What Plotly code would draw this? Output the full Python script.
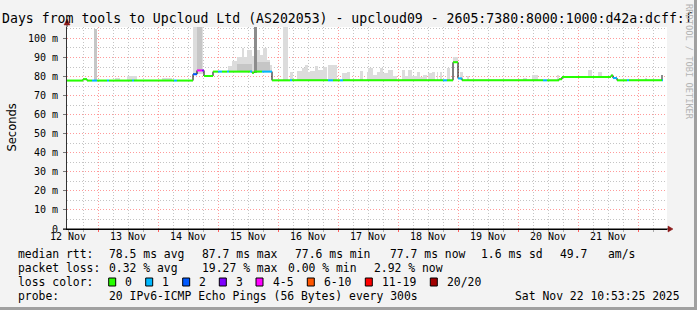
import bisect
from datetime import datetime, timedelta
import plotly.graph_objects as go

# ---------------- data ----------------
START = datetime(2025, 11, 12, 11, 36)
SPAN_HOURS = 240

# median rtt step series (hours since START, ms, loss class index)
median_h = [0, 6.4, 8.0, 10.0, 12.0, 16.0, 16.8, 26.0, 26.8, 42.8, 44.0, 50.4, 52.0, 54.0,
            54.8, 58.4, 60.4, 62.0, 64.0, 64.8, 73.2, 74.0, 74.8, 78.0, 82.0, 89.2, 90.0,
            104.4, 106.4, 109.2, 110.4, 150.4, 152.0, 154.4, 156.4, 158.0, 190.4, 192.0,
            196.8, 198.0, 217.6, 218.4, 220.0, 224.0, 224.8, 238.0]
median_ms = [77.9, 78.6, 77.9, 77.9, 77.9, 77.9, 77.9, 77.9, 77.9, 77.9, 77.9, 81.2, 83.2, 83.2,
             80.3, 82.6, 82.6, 82.6, 82.6, 82.6, 82.6, 82.0, 82.6, 82.6, 78.0, 78.0, 78.0,
             78.0, 78.0, 78.0, 78.0, 78.0, 78.0, 87.5, 79.0, 78.0, 78.0, 78.0,
             78.6, 79.8, 80.6, 79.2, 78.0, 78.0, 78.0, 78.0]
median_loss = [0, 0, 0, 1, 0, 1, 0, 1, 0, 1, 0, 2, 4, 3,
               0, 0, 1, 0, 1, 0, 1, 0, 0, 1, 0, 1, 0,
               1, 0, 1, 0, 1, 0, 0, 1, 0, 1, 0,
               0, 0, 0, 1, 0, 1, 0, 1]
median_end_h = 238.4

# smoke (outer, light)
smoke_start = [19.2, 24.0, 38.0, 50.4, 64.4, 66.0, 68.0, 70.0, 70.6, 72.0, 74.0, 75.8, 77.2, 78.4,
               80.0, 81.2, 86.4, 89.2, 92.0, 94.0, 95.2, 96.4, 97.2, 99.2, 100.4, 102.4, 104.4,
               110.0, 112.0, 117.2, 120.0, 120.4, 122.4, 124.0, 125.2, 126.4, 128.4, 130.4,
               134.0, 135.2, 136.4, 138.0, 140.0, 141.2, 142.4, 144.4, 146.0, 148.0, 149.2,
               152.0, 154.4, 157.2, 160.0, 182.4, 186.0, 196.0, 208.4, 212.4, 231.2]
smoke_end = [21.2, 28.0, 42.0, 54.4, 66.0, 68.0, 70.0, 70.6, 72.0, 74.0, 74.6, 77.2, 78.4, 80.0,
             81.2, 82.0, 88.4, 90.4, 94.0, 95.2, 96.4, 97.2, 99.2, 100.4, 102.4, 104.0, 108.0,
             112.0, 113.2, 118.4, 120.4, 122.4, 124.0, 125.2, 126.4, 128.4, 130.4, 132.0,
             135.2, 136.4, 138.0, 140.0, 141.2, 142.4, 144.0, 146.0, 147.2, 148.4, 150.0,
             153.2, 156.4, 158.4, 160.8, 184.0, 188.4, 196.8, 210.0, 214.0, 232.0]
smoke_top = [79.5, 80.4, 79.5, 105.8, 85.3, 87.9, 90.0, 94.9, 90.0, 94.0, 91.0, 94.0, 91.4, 94.9,
             88.8, 86.0, 105.8, 82.6, 83.0, 84.4, 86.1, 82.6, 83.0, 85.3, 83.5, 85.0, 86.0,
             81.8, 82.6, 83.0, 82.6, 84.4, 81.0, 82.6, 84.4, 82.0, 83.5, 80.5,
             83.5, 80.5, 83.5, 80.5, 82.6, 80.0, 81.0, 81.8, 82.6, 82.6, 82.6,
             84.4, 90.5, 82.6, 80.5, 79.5, 80.9, 80.9, 83.5, 82.3, 79.5]

# smoke (inner, medium grey)
mid_start = [10.8, 52.0, 68.0, 75.8]
mid_end = [12.0, 54.0, 74.0, 81.2]
mid_top = [104.9, 105.8, 86.5, 87.5]

# smoke (dark grey)
dark_start = [74.6, 237.6]
dark_end = [75.8, 238.4]
dark_top = [105.8, 81.0]

loss_labels = ["0", "1", "2", "3", "4-5", "6-10", "11-19", "20/20"]
loss_colors = ["#26ff00", "#00b8ff", "#0059ff", "#7e00ff", "#ff00ff", "#ff5500", "#ff0000", "#a10000"]

day_labels = ["12 Nov", "13 Nov", "14 Nov", "15 Nov", "16 Nov", "17 Nov", "18 Nov", "19 Nov",
              "20 Nov", "21 Nov"]
y_tick_vals = [0, 10, 20, 30, 40, 50, 60, 70, 80, 90, 100]
y_tick_text = ["0", "10 m", "20 m", "30 m", "40 m", "50 m", "60 m", "70 m", "80 m", "90 m", "100 m"]

title_text = "Days from tools to Upcloud Ltd (AS202053) - upcloud09 - 2605:7380:8000:1000:d42a:dcff:f"
row_median = [("median rtt:", 16), ("78.5 ms avg", 107), ("87.7 ms max", 200),
              ("77.6 ms min", 292.7), ("77.7 ms now", 387.7), ("1.6 ms sd", 479),
              ("49.7   am/s", 558)]
row_loss = [("packet loss:", 16), ("0.32 % avg", 107.3), ("19.27 % max", 200),
            ("0.00 % min", 286), ("2.92 % now", 372.3)]
row_probe = [("probe:", 16), ("20 IPv6-ICMP Echo Pings (56 Bytes) every 300s", 107.3),
             ("Sat Nov 22 10:53:25 2025", 513.3)]
loss_row_label = "loss color:"
swatch_x = [108.7, 145.7, 182.7, 219.3, 256, 307.3, 365.3, 430.3]

# ---------------- layout helpers ----------------
W, H = 697, 310
L, R, T, B = 67, 30, 27, 81
PW, PH = W - L - R, H - T - B
MONO = "DejaVu Sans Mono"


def px(x):
    return (x - L) / PW


def py(y):
    return (H - B - y) / PH


def dt(h):
    return START + timedelta(hours=h)


def min_median(h0, h1):
    vals = []
    for i, s in enumerate(median_h):
        e = median_h[i + 1] if i + 1 < len(median_h) else median_end_h
        if s < h1 and e > h0:
            vals.append(median_ms[i])
    return min(vals) if vals else median_ms[bisect.bisect_right(median_h, h0) - 1]


fig = go.Figure()


def smoke_trace(starts, ends, tops, color):
    xs, ys, bs, ws = [], [], [], []
    for s, e, t in zip(starts, ends, tops):
        base = min_median(s, e)
        xs.append(dt((s + e) / 2))
        ws.append((e - s) * 3600 * 1000)
        bs.append(base)
        ys.append(max(t - base, 0))
    fig.add_trace(go.Bar(x=xs, y=ys, base=bs, width=ws, marker=dict(color=color, line=dict(width=0)),
                         hoverinfo="skip", showlegend=False))


smoke_trace(smoke_start, smoke_end, smoke_top, "#dcdcdc")
smoke_trace(mid_start, mid_end, mid_top, "#c6c6c6")
smoke_trace(dark_start, dark_end, dark_top, "#8c8c8c")

# black step median underneath
fig.add_trace(go.Scatter(x=[dt(h) for h in median_h] + [dt(median_end_h)],
                         y=median_ms + [median_ms[-1]], mode="lines", line_shape="hv",
                         line=dict(color="#000000", width=1), hoverinfo="skip", showlegend=False))

# coloured median segments by loss
for c, col in enumerate(loss_colors):
    xs, ys = [], []
    for i, h in enumerate(median_h):
        if median_loss[i] != c:
            continue
        e = median_h[i + 1] if i + 1 < len(median_h) else median_end_h
        xs += [dt(h), dt(e), None]
        ys += [median_ms[i], median_ms[i], None]
    if xs:
        fig.add_trace(go.Scatter(x=xs, y=ys, mode="lines", line=dict(color=col, width=2),
                                 hoverinfo="skip", showlegend=False))

# dummy trace for label axis
fig.add_trace(go.Scatter(x=[dt(0), dt(SPAN_HOURS)], y=[None, None], xaxis="x2", mode="lines",
                         hoverinfo="skip", showlegend=False))

xr = [dt(0), dt(SPAN_HOURS)]
first_mid = datetime(START.year, START.month, START.day) + timedelta(days=1)
noon_vals = [datetime(START.year, START.month, START.day, 12) + timedelta(days=i)
             for i in range(len(day_labels))]

fig.update_layout(
    width=W, height=H,
    margin=dict(l=L, r=R, t=T, b=B, pad=0, autoexpand=False),
    paper_bgcolor="#f3f3f3", plot_bgcolor="#ffffff",
    font=dict(family=MONO, size=10, color="#000000"),
    barmode="overlay", bargap=0,
    xaxis=dict(type="date", range=xr, showticklabels=False,
               tick0=first_mid, dtick=86400000, ticks="outside", ticklen=2, tickcolor="#ff6060",
               showgrid=True, gridcolor="#ff9a9a", griddash="1px,2px", gridwidth=1,
               minor=dict(tick0=first_mid, dtick=21600000, showgrid=True, gridcolor="#c4c4c4",
                          griddash="1px,2px", ticks="outside", ticklen=2, tickcolor="#aaaaaa"),
               showline=True, linecolor="#000000", linewidth=1, zeroline=False),
    xaxis2=dict(type="date", range=xr, overlaying="x", side="bottom", showgrid=False,
                tickvals=noon_vals, ticktext=day_labels, ticks="", showline=False,
                tickfont=dict(family=MONO, size=10, color="#000000"), zeroline=False),
    yaxis=dict(range=[0, 106], tickvals=y_tick_vals, ticktext=y_tick_text,
               ticks="outside", ticklen=3, tickcolor="#777777", ticklabelstandoff=3,
               tickfont=dict(family=MONO, size=10, color="#000000"),
               showgrid=True, gridcolor="#ff9a9a", griddash="1px,2px", gridwidth=1,
               minor=dict(dtick=5, showgrid=True, gridcolor="#c4c4c4", griddash="1px,2px"),
               showline=True, linecolor="#333333", linewidth=1, zeroline=False),
)

ann = []
ann.append(dict(text=title_text, x=px(0), y=py(19), xref="paper", yref="paper", xanchor="left",
                yanchor="middle", showarrow=False, font=dict(family=MONO, size=13.2, color="#000000")))
ann.append(dict(text="Seconds", x=px(11), y=py(127.5), xref="paper", yref="paper", textangle=-90,
                xanchor="center", yanchor="middle", showarrow=False,
                font=dict(family="DejaVu Sans", size=11.5, color="#000000")))
ann.append(dict(text="RRDTOOL / TOBI OETIKER", x=px(689), y=py(62), xref="paper", yref="paper",
                textangle=90, xanchor="center", yanchor="middle", showarrow=False,
                font=dict(family=MONO, size=8.7, color="#b4b4b4")))

LEG = 11.4
for rowy, row in ((254, row_median), (268, row_loss), (296, row_probe)):
    for txt, x in row:
        ann.append(dict(text=txt.replace(" ", "&nbsp;"), x=px(x), y=py(rowy), xref="paper", yref="paper",
                        xanchor="left", yanchor="middle", showarrow=False,
                        font=dict(family=MONO, size=LEG, color="#000000")))
ann.append(dict(text=loss_row_label.replace(" ", "&nbsp;"), x=px(16), y=py(282), xref="paper",
                yref="paper", xanchor="left", yanchor="middle", showarrow=False,
                font=dict(family=MONO, size=LEG, color="#000000")))

shapes = []
for lab, col, x in zip(loss_labels, loss_colors, swatch_x):
    shapes.append(dict(type="rect", xref="paper", yref="paper", x0=px(x), x1=px(x + 7),
                       y0=py(286), y1=py(278), fillcolor=col, line=dict(color="#000000", width=1)))
    ann.append(dict(text=lab, x=px(x + 14.5), y=py(282), xref="paper", yref="paper",
                    xanchor="left", yanchor="middle", showarrow=False,
                    font=dict(family=MONO, size=LEG, color="#000000")))

# axis extensions and arrows
shapes.append(dict(type="line", xref="paper", yref="paper", x0=px(67), x1=px(67), y0=py(27), y1=py(23),
                   line=dict(color="#333333", width=1)))
shapes.append(dict(type="path", xref="paper", yref="paper",
                   path=f"M {px(67)} {py(19)} L {px(64)} {py(25)} L {px(70)} {py(25)} Z",
                   fillcolor="#8b1a1a", line=dict(color="#8b1a1a", width=0.5)))
shapes.append(dict(type="line", xref="paper", yref="paper", x0=px(63), x1=px(669), y0=py(229), y1=py(229),
                   line=dict(color="#000000", width=1)))
shapes.append(dict(type="path", xref="paper", yref="paper",
                   path=f"M {px(673)} {py(229)} L {px(668)} {py(226)} L {px(668)} {py(232)} Z",
                   fillcolor="#8b1a1a", line=dict(color="#8b1a1a", width=0.5)))
# frame
shapes.append(dict(type="rect", xref="paper", yref="paper", x0=px(694), x1=px(697), y0=py(310), y1=py(0),
                   fillcolor="#a0a0a0", line=dict(width=0)))
shapes.append(dict(type="rect", xref="paper", yref="paper", x0=px(0), x1=px(697), y0=py(310), y1=py(307),
                   fillcolor="#a0a0a0", line=dict(width=0)))

fig.update_layout(annotations=ann, shapes=shapes)
fig.write_html("out.html")
